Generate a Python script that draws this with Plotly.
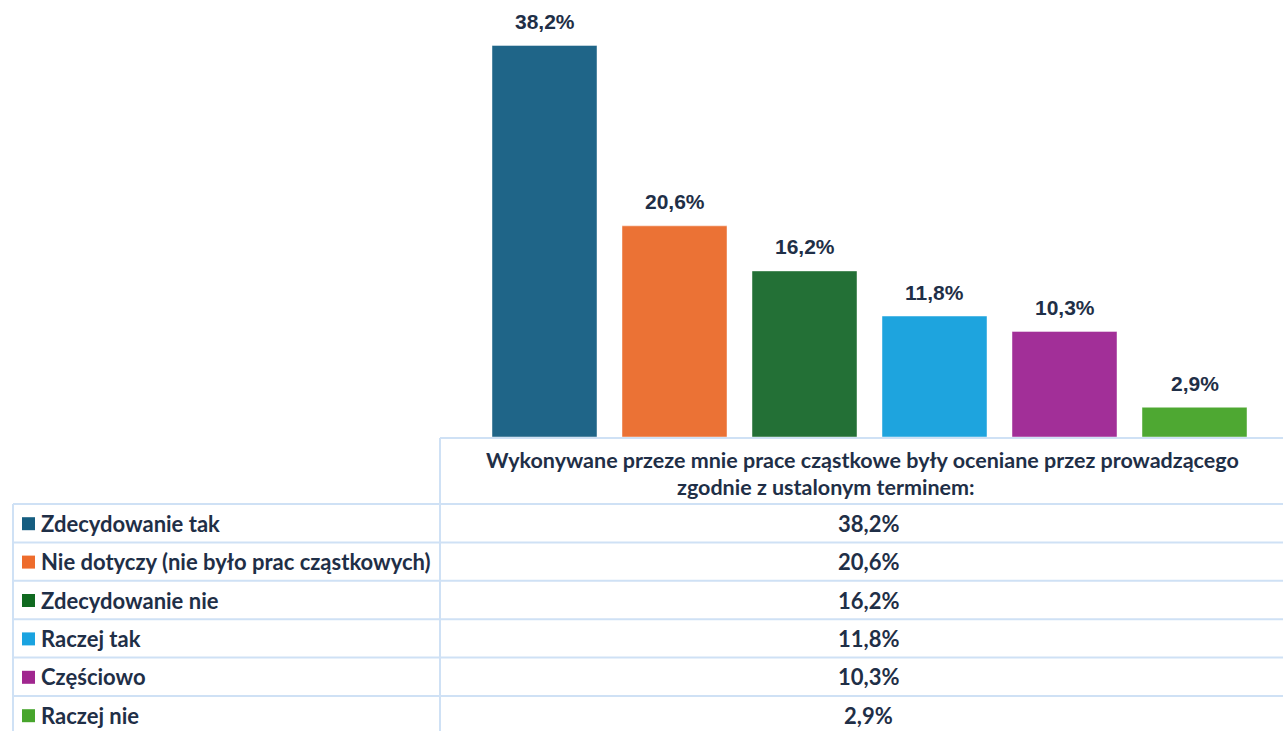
import plotly.graph_objects as go

categories = ["Zdecydowanie tak", "Nie dotyczy (nie było prac cząstkowych)",
              "Zdecydowanie nie", "Raczej tak", "Częściowo", "Raczej nie"]
values = [38.2, 20.6, 16.2, 11.8, 10.3, 2.9]
labels = ["38,2%", "20,6%", "16,2%", "11,8%", "10,3%", "2,9%"]
bar_colors = ["#1f6588", "#eb7235", "#237036", "#1ea4de", "#a22f98", "#4ea832"]
key_colors = ["#155d80", "#ee6c2c", "#106a20", "#1aa3e0", "#a0268f", "#47a52c"]
header_line1 = "Wykonywane przeze mnie prace cząstkowe były oceniane przez prowadzącego"
header_line2 = "zgodnie z ustalonym terminem:"

W, H = 1283, 731
AX_LEFT, AX_BASE, AX_TOP = 440, 437, 0
L = AX_LEFT
T = AX_TOP
B = H - AX_BASE
PW = W - AX_LEFT
PH = AX_BASE - AX_TOP
PX_PER_UNIT = 10.25
SLOT = 130
FIRST_CENTER = 544.5

GRID = "#cfe1f5"
TXT = "#1f2f47"
FONT_T = "Lato"


def px(x):
    return (x - AX_LEFT) / PW


def py(y):
    return (AX_BASE - y) / PH


fig = go.Figure()
fig.add_trace(go.Bar(
    x=categories, y=values,
    marker=dict(color=bar_colors, line=dict(color="rgba(255,255,255,0.45)", width=1)),
    width=105 / SLOT, hoverinfo="skip", showlegend=False,
))

annotations = []
for c, v, lab in zip(categories, values, labels):
    annotations.append(dict(x=c, y=v, xref="x", yref="y", text="<b>" + lab + "</b>", showarrow=False,
                            yanchor="middle", yshift=24,
                            font=dict(family="Liberation Sans", size=21, color=TXT)))

shapes = []
line = dict(color=GRID, width=2)
shapes.append(dict(type="line", xref="paper", yref="paper", x0=px(440), x1=px(W + 5),
                   y0=py(438), y1=py(438), line=line))
shapes.append(dict(type="line", xref="paper", yref="paper", x0=px(440), x1=px(440),
                   y0=py(438), y1=py(H + 5), line=line))
shapes.append(dict(type="line", xref="paper", yref="paper", x0=px(13), x1=px(13),
                   y0=py(504), y1=py(H + 5), line=line))
row_h = 38.4
row_top = 504
for i in range(len(categories)):
    yy = row_top + i * row_h
    shapes.append(dict(type="line", xref="paper", yref="paper", x0=px(13), x1=px(W + 5),
                       y0=py(yy), y1=py(yy), line=line))

for i, (c, lab, kc) in enumerate(zip(categories, labels, key_colors)):
    yc = row_top + (i + 0.5) * row_h
    shapes.append(dict(type="rect", xref="paper", yref="paper", x0=px(22), x1=px(35),
                       y0=py(yc - 6), y1=py(yc + 7), fillcolor=kc, line=dict(width=0)))
    annotations.append(dict(x=px(39), y=py(yc), xref="paper", yref="paper", text="<b>" + c + "</b>",
                            showarrow=False, xanchor="left", yanchor="middle",
                            font=dict(family=FONT_T, size=22, color=TXT)))
    annotations.append(dict(x=px(868), y=py(yc), xref="paper", yref="paper", text="<b>" + lab + "</b>",
                            showarrow=False, xanchor="center", yanchor="middle",
                            font=dict(family=FONT_T, size=22, color=TXT)))

annotations.append(dict(x=px(862), y=py(460), xref="paper", yref="paper", text="<b>" + header_line1 + "</b>",
                        showarrow=False, xanchor="center", yanchor="middle",
                        font=dict(family=FONT_T, size=21.5, color=TXT)))
annotations.append(dict(x=px(826), y=py(487), xref="paper", yref="paper", text="<b>" + header_line2 + "</b>",
                        showarrow=False, xanchor="center", yanchor="middle",
                        font=dict(family=FONT_T, size=21.5, color=TXT)))

x0 = -(FIRST_CENTER - AX_LEFT) / SLOT
fig.update_layout(
    width=W, height=H,
    margin=dict(l=L, r=0, t=T, b=B),
    paper_bgcolor="white", plot_bgcolor="white",
    xaxis=dict(type="category", range=[x0, x0 + PW / SLOT],
               showticklabels=False, showgrid=False, zeroline=False, showline=False, ticks=""),
    yaxis=dict(range=[0, PH / PX_PER_UNIT], visible=False, showgrid=False, zeroline=False),
    shapes=shapes, annotations=annotations,
)

fig.write_html("out.html", config={"displayModeBar": False},
               post_script="document.body.style.margin='0';document.body.style.overflow='hidden';")
